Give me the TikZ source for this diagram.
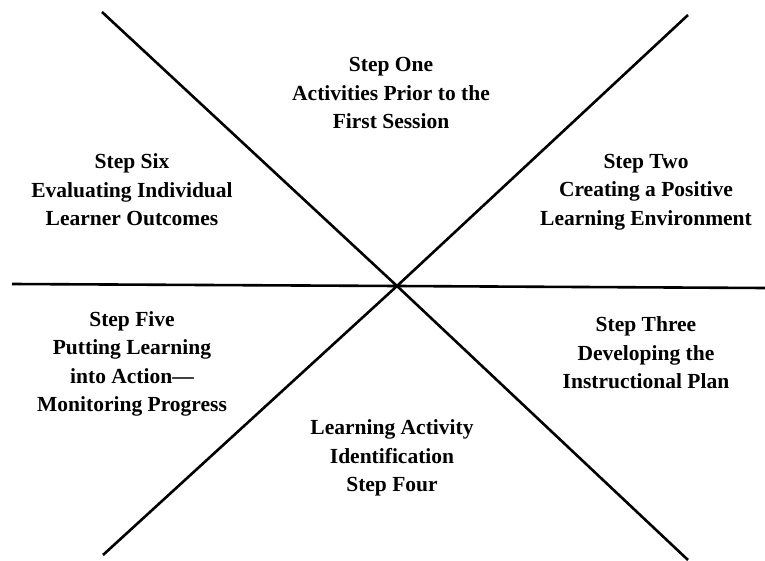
\documentclass[tikz,border=0pt]{standalone}
\usepackage{fontspec}
\setmainfont{Liberation Serif}
\begin{document}
\begin{tikzpicture}[x=1pt,y=-1pt,
    steptext/.style={align=center,font=\fontsize{21.5}{28.5}\selectfont\bfseries,inner sep=0pt},
    spoke/.style={line width=2.6pt}]
            \useasboundingbox (0,0) rectangle (765,561);
            \coordinate (mid) at (397,286);
            \coordinate (nw) at (102,12);
            \coordinate (ne) at (688,15);
            \coordinate (sw) at (103,555);
            \coordinate (se) at (688,560);
            \coordinate (w) at (12,284);
            \coordinate (e) at (765,288);
            \draw[spoke] (nw)--(mid)--(se);
            \draw[spoke] (ne)--(mid)--(sw);
            \draw[spoke] (w)--(mid)--(e);

            \node[steptext] (one) at (391,93) {Step One\\Activities Prior to the\\First Session};
            \node[steptext] (two) at (646,192) {Step Two\\Creating a Positive\\Learning Environment};
            \node[steptext] (three) at (646,353) {Step Three\\Developing the\\Instructional Plan};
            \node[steptext] (four) at (392,458) {Learning Activity\\Identification\\Step Four};
            \node[steptext] (five) at (132,364) {Step Five\\Putting Learning\\into Action---\\Monitoring Progress};
            \node[steptext] (six) at (132,190) {Step Six\\Evaluating Individual\\Learner Outcomes};
            \end{tikzpicture}
\end{document}
